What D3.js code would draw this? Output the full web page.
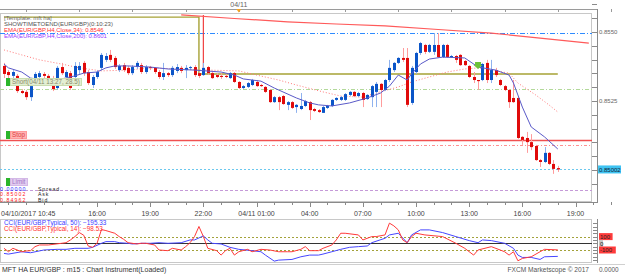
<!DOCTYPE html>
<html>
<head>
<meta charset="utf-8">
<script src="https://cdn.jsdelivr.net/npm/d3@7"></script>
<style>
  body { margin: 0; background: #fff; }
  svg { display: block; font-family: "Liberation Sans", Arial, sans-serif; }
</style>
</head>
<body>
<svg id="chart" width="625" height="274"></svg>
<script>
// EUR/GBP m15, heikin-ashi style candles, 04/10 10:45 -> 04/11 18:00
const start = new Date(2017, 3, 10, 10, 45);

const open = [
  .85377, .85355, .85341, .85341, .85286, .85283, .85264, .85326, .85337, .85348,
  .85341, .85333, .85297, .85373, .85337, .85351, .85337, .85362, .85388, .85355,
  .85308, .85337, .85370, .85399, .85417, .85406, .85362, .85380, .85370, .85351,
  .85373, .85380, .85355, .85373, .85370, .85355, .85337, .85351, .85344, .85359,
  .85370, .85362, .85370, .85373, .85351, .85344, .85373, .85351, .85344, .85341,
  .85341, .85333, .85351, .85319, .85297, .85301, .85308, .85319, .85308, .85301,
  .85290, .85246, .85264, .85268, .85236, .85246, .85228, .85221, .85232, .85246,
  .85221, .85217, .85207, .85225, .85232, .85254, .85254, .85254, .85272, .85283,
  .85268, .85279, .85257, .85264, .85283, .85312, .85290, .85326, .85362, .85388,
  .85406, .85406, .85243, .85355, .85424, .85453, .85428, .85428, .85453, .85409,
  .85453, .85409, .85413, .85417, .85395, .85377, .85337, .85326, .85326, .85388,
  .85326, .85362, .85326, .85304, .85290, .85261, .85261, .85120, .85116, .85101,
  .85087, .85036, .85029, .85062, .85022, .85007
];
const high = [
  .85388, .85362, .85362, .85348, .85293, .85290, .85312, .85355, .85359, .85355,
  .85348, .85341, .85377, .85388, .85362, .85359, .85391, .85391, .85395, .85362,
  .85344, .85362, .85424, .85424, .85435, .85413, .85384, .85388, .85377, .85380,
  .85395, .85388, .85380, .85377, .85373, .85362, .85388, .85355, .85377, .85384,
  .85377, .85380, .85377, .85380, .85355, .85388, .85377, .85359, .85351, .85351,
  .85348, .85355, .85355, .85322, .85308, .85319, .85330, .85326, .85312, .85304,
  .85293, .85268, .85268, .85272, .85250, .85250, .85239, .85279, .85254, .85250,
  .85225, .85221, .85232, .85236, .85257, .85264, .85268, .85279, .85286, .85286,
  .85283, .85283, .85275, .85308, .85319, .85315, .85330, .85399, .85391, .85409,
  .85442, .85442, .85377, .85428, .85464, .85457, .85457, .85496, .85496, .85457,
  .85457, .85417, .85417, .85420, .85399, .85380, .85355, .85326, .85388, .85399,
  .85399, .85370, .85330, .85308, .85293, .85326, .85264, .85123, .85138, .85130,
  .85091, .85040, .85083, .85065, .85036, .85015
];
const low = [
  .85333, .85333, .85333, .85279, .85275, .85254, .85250, .85319, .85330, .85333,
  .85326, .85286, .85290, .85344, .85330, .85290, .85330, .85348, .85341, .85308,
  .85297, .85330, .85362, .85391, .85391, .85366, .85355, .85355, .85344, .85344,
  .85366, .85348, .85348, .85362, .85348, .85330, .85326, .85337, .85337, .85351,
  .85351, .85333, .85362, .85337, .85333, .85341, .85344, .85330, .85333, .85330,
  .85333, .85330, .85315, .85293, .85293, .85297, .85304, .85301, .85301, .85279,
  .85243, .85243, .85217, .85236, .85217, .85221, .85207, .85217, .85228, .85181,
  .85210, .85207, .85207, .85221, .85228, .85250, .85250, .85250, .85268, .85264,
  .85264, .85228, .85254, .85228, .85228, .85228, .85286, .85319, .85355, .85384,
  .85391, .85228, .85236, .85348, .85417, .85420, .85424, .85417, .85406, .85406,
  .85406, .85406, .85388, .85377, .85377, .85333, .85315, .85290, .85322, .85315,
  .85315, .85337, .85304, .85286, .85225, .85243, .85112, .85091, .85062, .85072,
  .85033, .85011, .85025, .85018, .84986, .84993
];
const close = [
  .85348, .85344, .85355, .85286, .85279, .85264, .85304, .85348, .85351, .85341,
  .85333, .85293, .85370, .85351, .85355, .85297, .85377, .85377, .85351, .85315,
  .85337, .85355, .85417, .85413, .85399, .85373, .85377, .85362, .85351, .85373,
  .85388, .85355, .85373, .85370, .85355, .85337, .85351, .85344, .85370, .85373,
  .85359, .85370, .85373, .85344, .85341, .85370, .85351, .85333, .85337, .85337,
  .85337, .85351, .85319, .85297, .85304, .85315, .85326, .85304, .85304, .85283,
  .85246, .85264, .85246, .85239, .85246, .85225, .85236, .85232, .85250, .85217,
  .85214, .85210, .85228, .85232, .85254, .85261, .85264, .85275, .85283, .85268,
  .85279, .85254, .85272, .85304, .85312, .85290, .85326, .85370, .85388, .85406,
  .85399, .85236, .85370, .85424, .85460, .85428, .85453, .85453, .85409, .85453,
  .85409, .85413, .85399, .85380, .85380, .85337, .85326, .85322, .85384, .85326,
  .85362, .85344, .85308, .85290, .85246, .85246, .85116, .85109, .85101, .85083,
  .85036, .85029, .85062, .85022, .85004, .85002
];

// indicator lines: [candle index, value]
const emaFast = [
  [0, .85384], [1, .85370], [4, .85355], [6, .85333], [9, .85326], [13, .85330], [16, .85341],
  [18, .85351], [21, .85355], [23, .85370], [25, .85377], [28, .85377], [33, .85373], [37, .85366],
  [43, .85362], [49, .85355], [52, .85344], [54, .85330], [58, .85322], [61, .85297], [66, .85261],
  [69, .85243], [71, .85236], [74, .85232], [78, .85243], [82, .85261], [85, .85279], [87, .85304],
  [89, .85344], [91, .85326], [92, .85348], [94, .85384], [96, .85402], [99, .85409], [104, .85406],
  [107, .85373], [111, .85362], [114, .85344], [115, .85315], [117, .85228], [119, .85156],
  [122, .85120], [125, .85076]
];
const emaSlow = [
  [0, .85435], [4, .85417], [8, .85399], [13, .85384], [17, .85370], [22, .85359], [28, .85362],
  [33, .85370], [40, .85366], [46, .85362], [53, .85359], [57, .85344], [62, .85326], [66, .85308],
  [72, .85283], [76, .85268], [81, .85264], [84, .85279], [89, .85301], [92, .85319], [96, .85337],
  [100, .85355], [104, .85366], [107, .85370], [111, .85359], [114, .85351], [116, .85315],
  [120, .85272], [123, .85236], [125, .85210]
];
const emaH4 = [
  [40, .85562], [52, .85549], [64, .85537], [75, .85529], [86, .85522], [98, .85509],
  [110, .85496], [121, .85478], [132, .85460]
];
const cci14 = [
  [0, -75], [1, -126], [2, -75], [4, -126], [5, -115], [6, -110], [7, -50], [8, -25], [10, -25],
  [13, 0], [14, 9], [15, 50], [16, 100], [17, 160], [18, 120], [19, -40], [20, -60], [21, 0],
  [22, 205], [23, 190], [25, 150], [26, 100], [27, 60], [28, 9], [30, -10], [31, 0], [32, 0],
  [34, -25], [35, -100], [37, -110], [38, -75], [40, -100], [41, -50], [42, 9], [43, 100],
  [44, 251], [45, 100], [46, -75], [48, -110], [49, -176], [50, -110], [51, -75], [52, -176],
  [53, -126], [55, -90], [56, -126], [58, -90], [60, -100], [62, -126], [64, -126], [65, -126],
  [67, -90], [68, -50], [69, -110], [71, -110], [72, -75], [74, -25], [75, 50], [76, 150],
  [77, 150], [80, 125], [81, 50], [83, 100], [84, 100], [86, 125], [87, 301], [88, 260],
  [89, 200], [90, 50], [91, 9], [92, 100], [93, 150], [95, 125], [99, 100], [102, 0], [104, -75],
  [106, -176], [107, -100], [110, -50], [112, -100], [113, -126], [114, -176], [115, -126],
  [116, -261], [117, -226], [119, -201], [121, -126], [122, -90], [125, -98.53]
];
const cci50 = [
  [0, -151], [1, -161], [4, -126], [6, -141], [9, -100], [12, -90], [14, -90], [16, -75], [19, -75],
  [20, -60], [22, 0], [23, 25], [25, 25], [26, 9], [28, 0], [29, -10], [31, 0], [33, 0], [35, 9],
  [37, 0], [40, 9], [42, 50], [43, 50], [45, 110], [46, 50], [47, 0], [49, -10], [51, -60],
  [53, -90], [56, -110], [58, -126], [59, -176], [61, -266], [62, -251], [65, -241], [67, -201],
  [69, -176], [71, -176], [72, -161], [74, -126], [76, -90], [78, -60], [80, -50], [82, -40],
  [83, 9], [86, 75], [87, 125], [89, 150], [91, 9], [92, 125], [94, 200], [96, 200], [99, 160],
  [102, 100], [105, 40], [107, 9], [108, 50], [110, 40], [113, 0], [115, -75], [116, -176],
  [117, -211], [119, -211], [121, -241], [122, -201], [125, -195.33]
];

// horizontal levels
const bluePivot = 0.85496;
const entryLevel = 0.85293;
const stopLevel = 0.85109;
const stopTrail = 0.85091;
const askLevel = 0.85002;
const limitLevel = 0.84926;
const timeToEnd = [[0, 0.85554], [44, 0.85554], [44, 0.85348], [125, 0.85348]];
const sessionMark = [[45, 0.85562], [45, 0.85348]];
const shortEntry = [107, 0.85380];

const priceTicks = [0.8525, 0.8550];
const cciTicks = [100, 0, -100];

const legendLines = [
  { text: '[Template: mft ha]', color: '#6a6a6a' },
  { text: 'SHOWTIMETOEND(EUR/GBP)(0:10:23)', color: '#555' },
  { text: 'EMA(EUR/GBP,H4,Close,34): 0.8546', color: '#ff3030' },
  { text: 'EMA(EUR/GBP,H4,Close,200): 0.8601', color: '#9a3cff' }
];
const quoteLines = [
  { value: '0.00000', label: 'Spread', color: '#1a1aff' },
  { value: '0.85002', label: 'Ask', color: '#ff2020' },
  { value: '0.84962', label: 'Bid', color: '#ff2020' }
];

// ---------------------------------------------------------------
const svg = d3.select('#chart');
const at = i => new Date(start.getTime() + i * 15 * 60000);

const x = d3.scaleTime().domain([start, at(125)]).range([4, 557.8]);
const y = d3.scaleLinear().domain([0.8525, 0.8550]).range([101, 32]);
const yc = d3.scaleLinear().domain([-100, 100]).range([250, 236.6]);

const px = v => Math.round(v) + 0.5;

const defs = svg.append('defs');
defs.append('clipPath').attr('id', 'mainClip')
  .append('rect').attr('x', 0).attr('y', 14).attr('width', 592).attr('height', 188);
defs.append('clipPath').attr('id', 'cciClip')
  .append('rect').attr('x', 0).attr('y', 219).attr('width', 592).attr('height', 43);

// frames
svg.append('rect').attr('width', 625).attr('height', 274).attr('fill', '#fff');
svg.append('line').attr('x1', 0).attr('x2', 598).attr('y1', 9.5).attr('y2', 9.5).attr('stroke', '#9a9a9a');
svg.append('rect').attr('x', 0.5).attr('y', 13.5).attr('width', 591).attr('height', 188)
  .attr('fill', 'none').attr('stroke', '#c8c8c8');
svg.append('rect').attr('x', 0.5).attr('y', 219.5).attr('width', 591).attr('height', 43)
  .attr('fill', 'none').attr('stroke', '#c8c8c8');
svg.append('line').attr('x1', 597.5).attr('x2', 597.5).attr('y1', 9).attr('y2', 203).attr('stroke', '#8a8a8a');
svg.append('line').attr('x1', 597.5).attr('x2', 597.5).attr('y1', 219).attr('y2', 263).attr('stroke', '#8a8a8a');
svg.append('line').attr('x1', 0).attr('x2', 598).attr('y1', 202.5).attr('y2', 202.5).attr('stroke', '#8a8a8a');
svg.append('line').attr('x1', 0).attr('x2', 625).attr('y1', 264.5).attr('y2', 264.5).attr('stroke', '#d0d0d0');

// top time strip
const topTicks = d3.timeHour.every(3).range(at(-1), at(140));
svg.append('g').selectAll('line').data(topTicks).join('line')
  .attr('x1', d => px(x(d))).attr('x2', d => px(x(d)))
  .attr('y1', 9).attr('y2', 12).attr('stroke', '#9a9a9a');
const dayStart = new Date(2017, 3, 11, 0, 0);
svg.append('text').attr('x', x(dayStart)).attr('y', 7).attr('text-anchor', 'middle')
  .attr('font-size', 7).attr('fill', '#666').text(d3.timeFormat('%m/%d')(dayStart));
svg.append('path')
  .attr('d', `M${x(dayStart) - 2.5},9 L${x(dayStart) + 2.5},9 L${x(dayStart)},12.5 Z`)
  .attr('fill', '#f7a21b');

// main panel
const main = svg.append('g').attr('clip-path', 'url(#mainClip)');
const lineAt = d3.line().x(d => x(at(d[0]))).y(d => y(d[1]));

function hLevel(v, color, dash, w) {
  main.append('line').attr('x1', 0).attr('x2', 592)
    .attr('y1', px(y(v))).attr('y2', px(y(v)))
    .attr('stroke', color).attr('stroke-width', w || 1)
    .attr('stroke-dasharray', dash || null);
}
hLevel(bluePivot, '#2f8cff', '5,2,1,2', 1.2);
hLevel(entryLevel, '#b3d99a', '4,2,1,2');
hLevel(stopLevel, '#f05050', null, 1.4);
hLevel(stopTrail, '#ff9090', '3,2,1,2');
hLevel(askLevel, '#6cc8ee', '2,2');
hLevel(limitLevel, '#c59ad8', '3,2');

main.append('path').datum(timeToEnd).attr('d', lineAt)
  .attr('fill', 'none').attr('stroke', '#a7a236').attr('stroke-width', 1.4);
main.append('path').datum(sessionMark).attr('d', lineAt)
  .attr('fill', 'none').attr('stroke', '#f04040').attr('stroke-width', 1.2);
main.append('path').datum(emaH4).attr('d', lineAt)
  .attr('fill', 'none').attr('stroke', '#ff5a5a').attr('stroke-width', 1.2);
main.append('path').datum(emaSlow).attr('d', lineAt)
  .attr('fill', 'none').attr('stroke', '#ff7a7a').attr('stroke-dasharray', '1,2');

const candles = close.map((c, i) => ({ t: at(i), o: open[i], h: high[i], l: low[i], c }));
const cg = main.append('g').selectAll('g').data(candles).join('g');
cg.append('line')
  .attr('x1', d => px(x(d.t))).attr('x2', d => px(x(d.t)))
  .attr('y1', d => y(d.h)).attr('y2', d => y(d.l))
  .attr('stroke', d => d.c >= d.o ? '#8fb2ee' : '#ff9c9c');
cg.append('rect')
  .attr('x', d => Math.round(x(d.t)) - 1)
  .attr('y', d => y(Math.max(d.o, d.c)))
  .attr('width', 3)
  .attr('height', d => Math.max(1, Math.abs(y(d.o) - y(d.c))))
  .attr('fill', d => d.c >= d.o ? '#0b55c8' : '#e00a0a');

main.append('path').datum(emaFast).attr('d', lineAt)
  .attr('fill', 'none').attr('stroke', '#5a5ac8').attr('stroke-width', 1);

// short entry arrow
const sx = x(at(shortEntry[0])), sy = y(shortEntry[1]);
main.append('path')
  .attr('d', `M${sx - 3},${sy - 3} L${sx + 3},${sy - 3} L${sx + 3},${sy} L${sx + 4.5},${sy} L${sx},${sy + 4} L${sx - 4.5},${sy} L${sx - 3},${sy} Z`)
  .attr('fill', '#6cc23a');

// legend, top-left
svg.append('g').selectAll('text').data(legendLines).join('text')
  .attr('x', 4).attr('y', (d, i) => 19.5 + i * 6.2)
  .attr('font-size', 6).attr('fill', d => d.color).text(d => d.text);

// order tags
function tag(yv, label, fill, stroke, color, w) {
  const ty = Math.round(y(yv)) - 8;
  svg.append('rect').attr('x', 6).attr('y', ty).attr('width', 4).attr('height', 8).attr('fill', '#2bb52b');
  svg.append('rect').attr('x', 10.5).attr('y', ty + 0.5).attr('width', w).attr('height', 7)
    .attr('fill', fill).attr('stroke', stroke);
  svg.append('text').attr('x', 12).attr('y', ty + 6.3).attr('font-size', 6.3)
    .attr('fill', color).text(label);
}
tag(entryLevel + 0.00011, 'Short(04/11 13:27, 28.5)', '#e3efd3', '#c9ddb0', '#8a8a6a', 71);
tag(stopLevel + 0.00004, 'Stop', '#ffb4b4', '#ff9a9a', '#e04040', 16);
tag(limitLevel + 0.00015, 'Limit', '#e2cdf0', '#d3b8e6', '#a476c6', 17);

// bid/ask block
const qg = svg.append('g').selectAll('g').data(quoteLines).join('g')
  .attr('transform', (d, i) => `translate(0,${191 + i * 5.4})`);
qg.append('text').attr('x', 0).attr('font-size', 5.2).attr('letter-spacing', 1.1)
  .attr('fill', d => d.color).text(d => d.value);
qg.append('text').attr('x', 38).attr('font-size', 5.2).attr('letter-spacing', 0.9)
  .attr('fill', '#222').text(d => d.label);

// right price axis
const pa = svg.append('g');
const minorTicks = d3.range(0.8495, 0.85601, 0.0005);
pa.selectAll('line').data(minorTicks).join('line')
  .attr('x1', 592).attr('x2', 597).attr('y1', d => px(y(d))).attr('y2', d => px(y(d)))
  .attr('stroke', '#8a8a8a');
pa.selectAll('text').data(priceTicks).join('text')
  .attr('x', 599).attr('y', d => y(d) + 2.2).attr('font-size', 6).attr('fill', '#666')
  .text(d => d3.format('.4f')(d));
pa.append('rect').attr('x', 598).attr('y', y(askLevel) - 4).attr('width', 23).attr('height', 8)
  .attr('fill', '#3fc3f2');
pa.append('text').attr('x', 599).attr('y', y(askLevel) + 2.2).attr('font-size', 6)
  .attr('fill', '#123').text(d3.format('.5f')(askLevel));

// bottom time axis
const hourTicks = d3.timeHour.every(1).range(at(1), at(139));
const labelled = d => d.getHours() % 3 === 1 && x(d) - x(start) > 60;
svg.append('g').selectAll('line').data(hourTicks).join('line')
  .attr('x1', d => px(x(d))).attr('x2', d => px(x(d)))
  .attr('y1', 202).attr('y2', d => labelled(d) ? 207 : 205).attr('stroke', '#8a8a8a');
const labelTicks = hourTicks.filter(labelled);
svg.append('g').selectAll('text').data(labelTicks).join('text')
  .attr('x', d => x(d)).attr('y', 215.5).attr('text-anchor', 'middle')
  .attr('font-size', 7).attr('fill', '#444')
  .text(d => (d.getHours() === 1 ? d3.timeFormat('%m/%d ')(d) : '') + d3.timeFormat('%H:%M')(d));
svg.append('text').attr('x', 1).attr('y', 215.5).attr('font-size', 7).attr('fill', '#444')
  .text(d3.timeFormat('%m/%d/%Y %H:%M')(start));

// CCI panel
const cci = svg.append('g').attr('clip-path', 'url(#cciClip)');
[100, -100].forEach(v => cci.append('line').attr('x1', 0).attr('x2', 592)
  .attr('y1', px(yc(v))).attr('y2', px(yc(v))).attr('stroke', '#a3a23a').attr('stroke-dasharray', '2,2'));
cci.append('line').attr('x1', 0).attr('x2', 592).attr('y1', px(yc(0))).attr('y2', px(yc(0)))
  .attr('stroke', '#333');
const cciLine = d3.line().x(d => x(at(d[0]))).y(d => yc(d[1]));
cci.append('path').datum(cci50).attr('d', cciLine).attr('fill', 'none').attr('stroke', '#4646ff');
cci.append('path').datum(cci14).attr('d', cciLine).attr('fill', 'none').attr('stroke', '#ff3a3a');

svg.append('text').attr('x', 4).attr('y', 225).attr('font-size', 6.4).attr('fill', '#3b3bff')
  .text('CCI(EUR/GBP,Typical, 50): ' + d3.format('.2f')(cci50[cci50.length - 1][1]));
svg.append('text').attr('x', 4).attr('y', 231).attr('font-size', 6.4).attr('fill', '#ff3030')
  .text('CCI(EUR/GBP,Typical, 14): ' + d3.format('.2f')(cci14[cci14.length - 1][1]));

const ca = svg.append('g');
ca.selectAll('line').data(d3.range(-250, 301, 50)).join('line')
  .attr('x1', 593).attr('x2', 597).attr('y1', d => px(yc(d))).attr('y2', d => px(yc(d)))
  .attr('stroke', '#8a8a8a');
cciTicks.forEach(v => {
  const label = String(v);
  const w = v === 0 ? 4 : 4 + label.length * 3.2;
  ca.append('rect').attr('x', 599).attr('y', yc(v) - 3.5).attr('width', w).attr('height', 7)
    .attr('fill', v === 0 ? '#c8c8c8' : '#ff3b3b');
  ca.append('text').attr('x', 600).attr('y', yc(v) + 2.2).attr('font-size', 6)
    .attr('fill', '#222').text(label);
});

// status bar
svg.append('text').attr('x', 2).attr('y', 271.5).attr('font-size', 7).attr('fill', '#333')
  .text('MFT HA  EUR/GBP : m15 : Chart Instrument(Loaded)');
svg.append('text').attr('x', 589).attr('y', 271.5).attr('font-size', 6.6).attr('text-anchor', 'end')
  .attr('fill', '#555').text('FXCM Marketscope © 2017');
svg.append('text').attr('x', 599).attr('y', 272).attr('font-size', 6.4).attr('fill', '#555')
  .text('0.0000');
</script>
</body>
</html>
